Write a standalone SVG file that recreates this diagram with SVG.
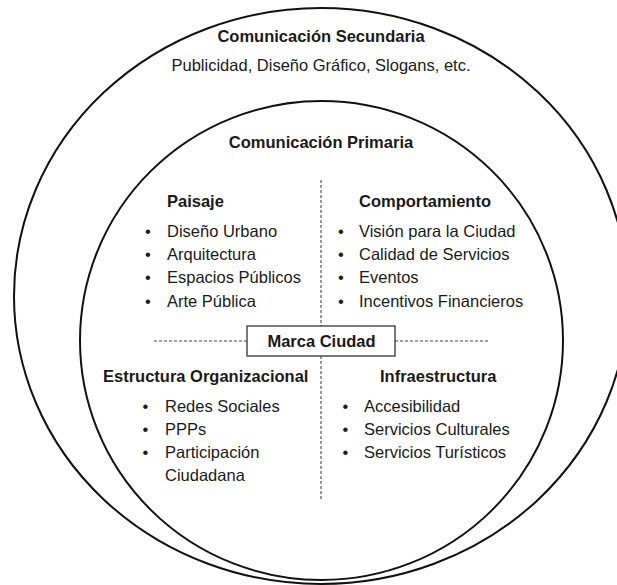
<svg xmlns="http://www.w3.org/2000/svg" width="617" height="585" viewBox="0 0 617 585">
<style>
text{font-family:"Liberation Sans",Arial,sans-serif;font-size:16.5px;fill:#1a1a1a}
.b{font-weight:bold}
.c{text-anchor:middle}
.ring{fill:none;stroke:#111;stroke-width:2}
.dash{fill:none;stroke:#444;stroke-width:1.1;stroke-dasharray:3 2}
</style>
<rect width="617" height="585" fill="#fff"/>
<g id="secundaria">
<ellipse class="ring" cx="321" cy="296" rx="307" ry="288"/>
<text class="b c" x="321" y="42">Comunicación Secundaria</text>
<text class="c" x="321" y="71">Publicidad, Diseño Gráfico, Slogans, etc.</text>
</g>
<g id="primaria">
<ellipse class="ring" cx="321.5" cy="340.5" rx="241.5" ry="239.5"/>
<text class="b c" x="321" y="148">Comunicación Primaria</text>
</g>
<g id="connectors">
<line class="dash" x1="321" y1="180" x2="321" y2="326"/>
<line class="dash" x1="321" y1="356" x2="321" y2="500"/>
<line class="dash" x1="154" y1="341" x2="247" y2="341"/>
<line class="dash" x1="395" y1="341" x2="488" y2="341"/>
</g>
<g id="paisaje">
<text class="b" x="167" y="207">Paisaje</text>
<text x="145" y="237">•</text><text x="167" y="237">Diseño Urbano</text>
<text x="145" y="260">•</text><text x="167" y="260">Arquitectura</text>
<text x="145" y="283">•</text><text x="167" y="283">Espacios Públicos</text>
<text x="145" y="307">•</text><text x="167" y="307">Arte Pública</text>
</g>
<g id="comportamiento">
<text class="b" x="359" y="207">Comportamiento</text>
<text x="338" y="237">•</text><text x="359" y="237">Visión para la Ciudad</text>
<text x="338" y="260">•</text><text x="359" y="260">Calidad de Servicios</text>
<text x="338" y="283">•</text><text x="359" y="283">Eventos</text>
<text x="338" y="307">•</text><text x="359" y="307">Incentivos Financieros</text>
</g>
<g id="marca-ciudad">
<rect x="247" y="326" width="148" height="30" fill="#fff" stroke="#333" stroke-width="1.3"/>
<text class="b c" x="321.5" y="347">Marca Ciudad</text>
</g>
<g id="estructura">
<text class="b" x="103" y="382">Estructura Organizacional</text>
<text x="142.5" y="412">•</text><text x="165" y="412">Redes Sociales</text>
<text x="142.5" y="435">•</text><text x="165" y="435">PPPs</text>
<text x="142.5" y="458">•</text><text x="165" y="458">Participación</text>
<text x="165" y="481">Ciudadana</text>
</g>
<g id="infraestructura">
<text class="b" x="380" y="382">Infraestructura</text>
<text x="342.5" y="412">•</text><text x="364" y="412">Accesibilidad</text>
<text x="342.5" y="435">•</text><text x="364" y="435">Servicios Culturales</text>
<text x="342.5" y="458">•</text><text x="364" y="458">Servicios Turísticos</text>
</g>
</svg>
